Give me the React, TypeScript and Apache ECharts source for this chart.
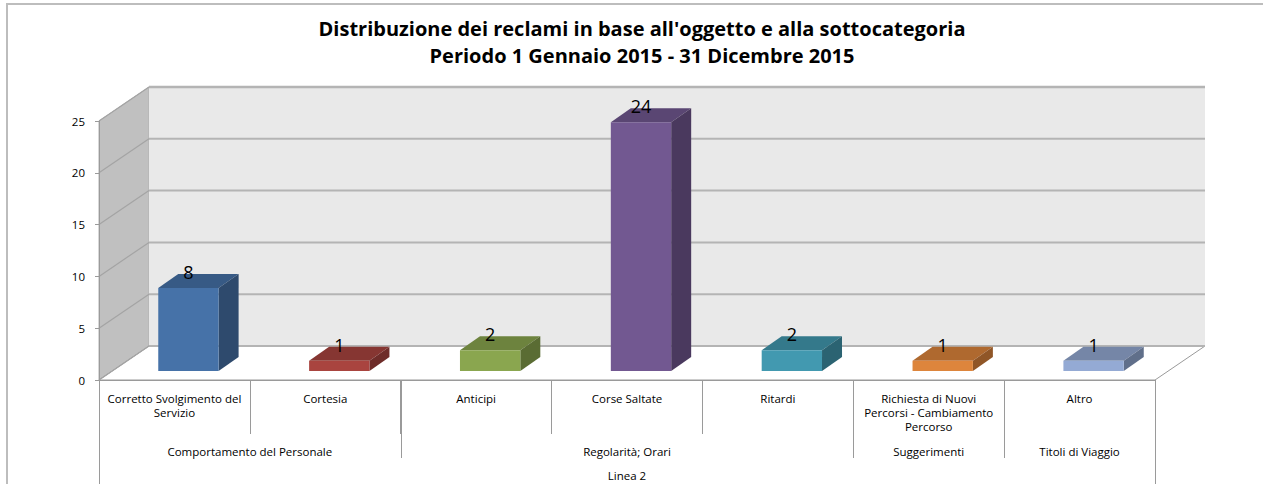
import React, { useEffect, useRef } from "react";
import * as echarts from "echarts";

const categories = [
  "Corretto Svolgimento del\nServizio",
  "Cortesia",
  "Anticipi",
  "Corse Saltate",
  "Ritardi",
  "Richiesta di Nuovi\nPercorsi - Cambiamento\nPercorso",
  "Altro",
];
const values = [8, 1, 2, 24, 2, 1, 1];
const barColors = ["#4672A8", "#A9443F", "#8AA64F", "#725891", "#4299B0", "#DD853C", "#94AAD4"];
const groupNames = ["Comportamento del Personale", "Regolarità; Orari", "Suggerimenti", "Titoli di Viaggio"];
const groupSpans = [2, 3, 1, 1];
const topLevel = "Linea 2";
const yTicks = [0, 5, 10, 15, 20, 25];
const titleLines = [
  "Distribuzione dei reclami in base all'oggetto e alla sottocategoria",
  "Periodo 1 Gennaio 2015 - 31 Dicembre 2015",
];

const FONT = "'Open Sans', Lato, sans-serif";
const WALL_DX = 50;
const WALL_DY = -34;
const BAR_OX = 14;
const BAR_OY = -9;
const BAR_DX = 20;
const BAR_DY = -14;

function shade(hex: string, f: number) {
  const n = parseInt(hex.slice(1), 16);
  const r = Math.round(((n >> 16) & 255) * f);
  const g = Math.round(((n >> 8) & 255) * f);
  const b = Math.round((n & 255) * f);
  return `rgb(${r},${g},${b})`;
}

export default function App() {
  const ref = useRef<HTMLDivElement>(null);
  useEffect(() => {
    if (!ref.current) return;
    const chart = echarts.init(ref.current, null, { renderer: "svg" });
    const yMax = yTicks[yTicks.length - 1];

    const wallsRender = (_p: any, api: any) => {
      const c0 = api.coord([0, 0]);
      const sz = api.size([1, 0])[0];
      const left = c0[0] - sz / 2;
      const right = left + sz * categories.length;
      const y0 = c0[1];
      const yTop = api.coord([0, yMax])[1];
      const children: any[] = [];
      children.push({
        type: "polygon",
        shape: { points: [[left, yTop], [left + WALL_DX, yTop + WALL_DY], [left + WALL_DX, y0 + WALL_DY], [left, y0]] },
        style: { fill: "#C0C0C0", stroke: "#B0B0B0", lineWidth: 1 },
      });
      children.push({
        type: "rect",
        shape: { x: left + WALL_DX, y: yTop + WALL_DY, width: right - left, height: y0 - yTop },
        style: { fill: "#E9E9E9" },
      });
      children.push({
        type: "polygon",
        shape: { points: [[left, y0], [left + WALL_DX, y0 + WALL_DY], [right + WALL_DX, y0 + WALL_DY], [right, y0]] },
        style: { fill: "#FFFFFF", stroke: "#9A9A9A", lineWidth: 1 },
      });
      yTicks.forEach((v) => {
        const y = api.coord([0, v])[1];
        children.push({
          type: "line",
          shape: { x1: left + WALL_DX, y1: y + WALL_DY, x2: right + WALL_DX, y2: y + WALL_DY },
          style: { stroke: "#B4B4B4", lineWidth: v === yMax ? 2.5 : 2 },
        });
        children.push({
          type: "line",
          shape: { x1: left, y1: y, x2: left + WALL_DX, y2: y + WALL_DY },
          style: { stroke: "#A4A4A4", lineWidth: 1.2 },
        });
      });
      return { type: "group", children };
    };

    const barsRender = (params: any, api: any) => {
      const i = api.value(0);
      const v = api.value(1);
      const base = api.coord([i, 0]);
      const top = api.coord([i, v]);
      const sz = api.size([1, 0])[0];
      const w = sz * 0.4;
      const cx = base[0] + BAR_OX;
      const x0 = cx - w / 2;
      const x1 = cx + w / 2;
      const by = base[1] + BAR_OY;
      const ty = top[1] + BAR_OY;
      const col = barColors[params.dataIndex];
      return {
        type: "group",
        children: [
          {
            type: "polygon",
            shape: { points: [[x0, ty], [x1, ty], [x1 + BAR_DX, ty + BAR_DY], [x0 + BAR_DX, ty + BAR_DY]] },
            style: { fill: shade(col, 0.79) },
          },
          {
            type: "polygon",
            shape: { points: [[x1, ty], [x1 + BAR_DX, ty + BAR_DY], [x1 + BAR_DX, by + BAR_DY], [x1, by]] },
            style: { fill: shade(col, 0.65) },
          },
          {
            type: "rect",
            shape: { x: x0, y: ty, width: w, height: by - ty },
            style: { fill: col },
          },
          {
            type: "text",
            style: {
              text: String(v),
              x: cx,
              y: ty - 16,
              textAlign: "center",
              textVerticalAlign: "middle",
              fontSize: 18,
              fontFamily: FONT,
              fill: "#000",
            },
          },
        ],
      };
    };

    const decorRender = (_p: any, api: any) => {
      const c0 = api.coord([0, 0]);
      const sz = api.size([1, 0])[0];
      const left = c0[0] - sz / 2;
      const y0 = c0[1];
      const children: any[] = [];
      let start = 0;
      const bounds = [0];
      groupSpans.forEach((span, gi) => {
        const cxg = left + (start + span / 2) * sz;
        children.push({
          type: "text",
          style: {
            text: groupNames[gi],
            x: cxg,
            y: y0 + 71,
            textAlign: "center",
            textVerticalAlign: "middle",
            fontSize: 11.5,
            fontFamily: FONT,
            fill: "#000",
          },
        });
        start += span;
        bounds.push(start);
      });
      bounds.forEach((b, bi) => {
        const x = Math.round(left + b * sz) + 0.5;
        const outer = bi === 0 || bi === bounds.length - 1;
        children.push({
          type: "line",
          shape: { x1: x, y1: y0, x2: x, y2: y0 + (outer ? 120 : 78) },
          style: { stroke: "#9A9A9A", lineWidth: 1 },
        });
      });
      children.push({
        type: "text",
        style: {
          text: topLevel,
          x: left + (categories.length / 2) * sz,
          y: y0 + 95,
          textAlign: "center",
          textVerticalAlign: "middle",
          fontSize: 11.5,
          fontFamily: FONT,
          fill: "#000",
        },
      });
      return { type: "group", children };
    };

    chart.setOption({
      animation: false,
      backgroundColor: "#FFFFFF",
      textStyle: { fontFamily: FONT },
      graphic: [
        {
          type: "rect",
          silent: true,
          z: -10,
          shape: { x: 7, y: 4, width: 1320, height: 600 },
          style: { fill: "none", stroke: "#BDBDBD", lineWidth: 2 },
        },
        {
          type: "text",
          silent: true,
          x: 642,
          y: 28,
          style: {
            text: titleLines[0],
            textAlign: "center",
            textVerticalAlign: "middle",
            fontSize: 20,
            fontWeight: "bold",
            fontFamily: FONT,
            fill: "#000",
          },
        },
        {
          type: "text",
          silent: true,
          x: 642,
          y: 55,
          style: {
            text: titleLines[1],
            textAlign: "center",
            textVerticalAlign: "middle",
            fontSize: 20,
            fontWeight: "bold",
            fontFamily: FONT,
            fill: "#000",
          },
        },
      ],
      grid: { left: 99, right: 108, top: 121, bottom: 104, containLabel: false },
      xAxis: {
        type: "category",
        data: categories,
        z: 4,
        axisLine: { show: true, lineStyle: { color: "#9A9A9A", width: 1 } },
        axisTick: { show: true, interval: 0, length: 54, lineStyle: { color: "#9A9A9A" } },
        axisLabel: {
          interval: 0,
          fontSize: 11.5,
          lineHeight: 14,
          margin: 11,
          color: "#000",
          fontFamily: FONT,
        },
        splitLine: { show: false },
      },
      yAxis: {
        type: "value",
        min: 0,
        max: yMax,
        interval: 5,
        z: 4,
        axisLine: { show: true, lineStyle: { color: "#9A9A9A", width: 1 } },
        axisTick: { show: true, length: 4, lineStyle: { color: "#9A9A9A" } },
        axisLabel: { fontSize: 11.5, color: "#000", margin: 14, fontFamily: FONT },
        splitLine: { show: false },
      },
      series: [
        { type: "custom", z: 1, silent: true, renderItem: wallsRender, data: [[0, 0]] },
        {
          type: "custom",
          z: 3,
          silent: true,
          renderItem: barsRender,
          data: values.map((v, i) => [i, v]),
        },
        { type: "custom", z: 3, silent: true, renderItem: decorRender, data: [[0, 0]] },
      ],
    });
    return () => chart.dispose();
  }, []);
  return <div ref={ref} style={{ position: "fixed", left: 0, top: 0, width: 1263, height: 484, background: "#fff" }} />;
}
